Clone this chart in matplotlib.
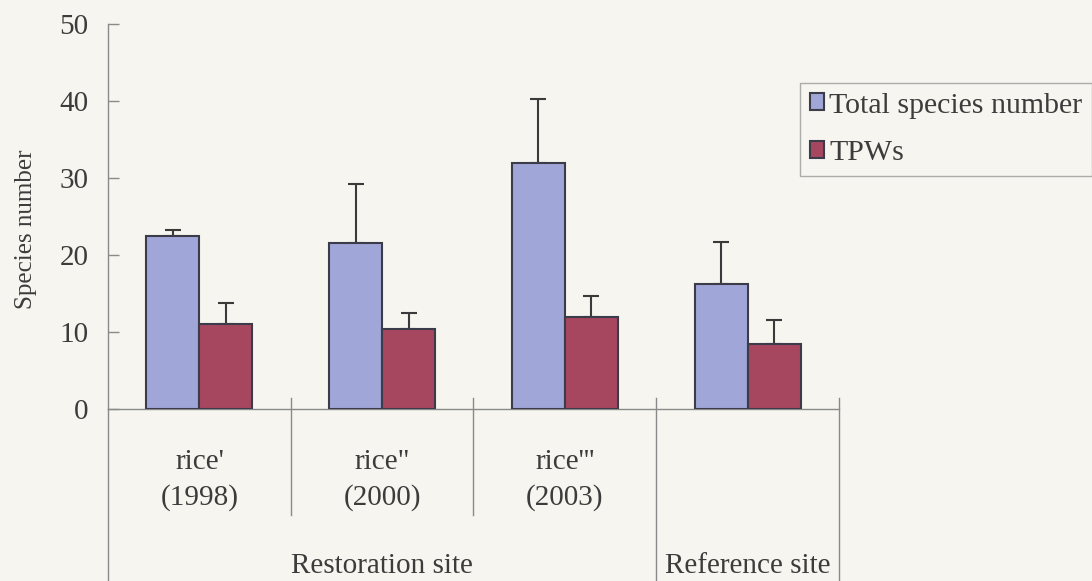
import numpy as np
import matplotlib.pyplot as plt
from matplotlib.lines import Line2D

# values
sites = ["rice'\n(1998)", 'rice"\n(2000)', "rice'''\n(2003)", ""]
total_species = [22.5, 21.6, 31.9, 16.2]
total_err = [0.7, 7.6, 8.4, 5.5]
tpws = [11.0, 10.4, 11.9, 8.4]
tpws_err = [2.8, 2.1, 2.8, 3.2]
groups = ["Restoration site", "Reference site"]
group_pos = [1.0, 3.0]
yticks = [0, 10, 20, 30, 40, 50]

bg = "#f6f5ef"
txt_col = "#3c3c3c"
line_col = "#8a8a8a"
blue = "#a0a7d8"
red = "#a6475f"
edge = "#3b3b4a"

plt.rcParams["font.family"] = ["Liberation Serif", "DejaVu Serif"]

fig = plt.figure(figsize=(10.92, 5.81), dpi=100, facecolor=bg)
ax = fig.add_axes([108 / 1092, 1 - 409 / 581, 731 / 1092, 385 / 581])
ax.set_facecolor(bg)

x = np.arange(len(total_species))
w = 0.29
ax.bar(x - w / 2, total_species, w, color=blue, edgecolor=edge, lw=1.5,
       label="Total species number", zorder=3)
ax.bar(x + w / 2, tpws, w, color=red, edgecolor=edge, lw=1.5,
       label="TPWs", zorder=3)
ekw = dict(fmt="none", ecolor="#3a3a3a", elinewidth=1.5, capsize=5.5,
           capthick=1.5, zorder=2)
ax.errorbar(x - w / 2, total_species, yerr=[np.zeros(4), total_err], **ekw)
ax.errorbar(x + w / 2, tpws, yerr=[np.zeros(4), tpws_err], **ekw)

ax.set_xlim(-0.5, 3.5)
ax.set_ylim(0, 50)
ax.set_yticks(yticks)
ax.set_xticks([])
ax.tick_params(axis="y", direction="in", length=8, width=1, color=line_col,
               labelsize=21, labelcolor=txt_col, pad=14)
for s in ["top", "right"]:
    ax.spines[s].set_visible(False)
for s in ["left", "bottom"]:
    ax.spines[s].set_color(line_col)
    ax.spines[s].set_linewidth(1)

# category dividers below the axis
tr = ax.get_xaxis_transform()
seg = [(-0.5, 0.0, -0.447), (0.5, 0.029, -0.275), (1.5, 0.029, -0.275),
       (2.5, 0.029, -0.447), (3.5, 0.029, -0.447)]
for xv, y0, y1 in seg:
    ax.add_line(Line2D([xv, xv], [y0, y1], transform=tr, color=line_col,
                       lw=1, clip_on=False))

for i, lab in enumerate(sites):
    if lab:
        ax.text(i, -0.185, lab, transform=tr, ha="center", va="center",
                fontsize=21, color=txt_col, linespacing=1.45)
for gx, g in zip(group_pos, groups):
    ax.text(gx, -0.408, g, transform=tr, ha="center", va="center",
            fontsize=21, color=txt_col)

fig.text(0.024, 1 - 229 / 581, "Species number", rotation=90, ha="center",
         va="center", fontsize=18, color=txt_col)

leg = fig.legend(loc="upper left", bbox_to_anchor=(800 / 1092, 1 - 83 / 581),
                 fontsize=21.5, frameon=True, fancybox=False, handlelength=0.5,
                 handleheight=0.5, handletextpad=0.15, borderpad=0.32,
                 labelspacing=0.72, borderaxespad=0)
leg.get_frame().set_edgecolor("#9a9a9a")
leg.get_frame().set_facecolor(bg)
leg.get_frame().set_linewidth(1)
for t in leg.get_texts():
    t.set_color(txt_col)

fig.savefig("out.png", dpi=100, facecolor=bg)
